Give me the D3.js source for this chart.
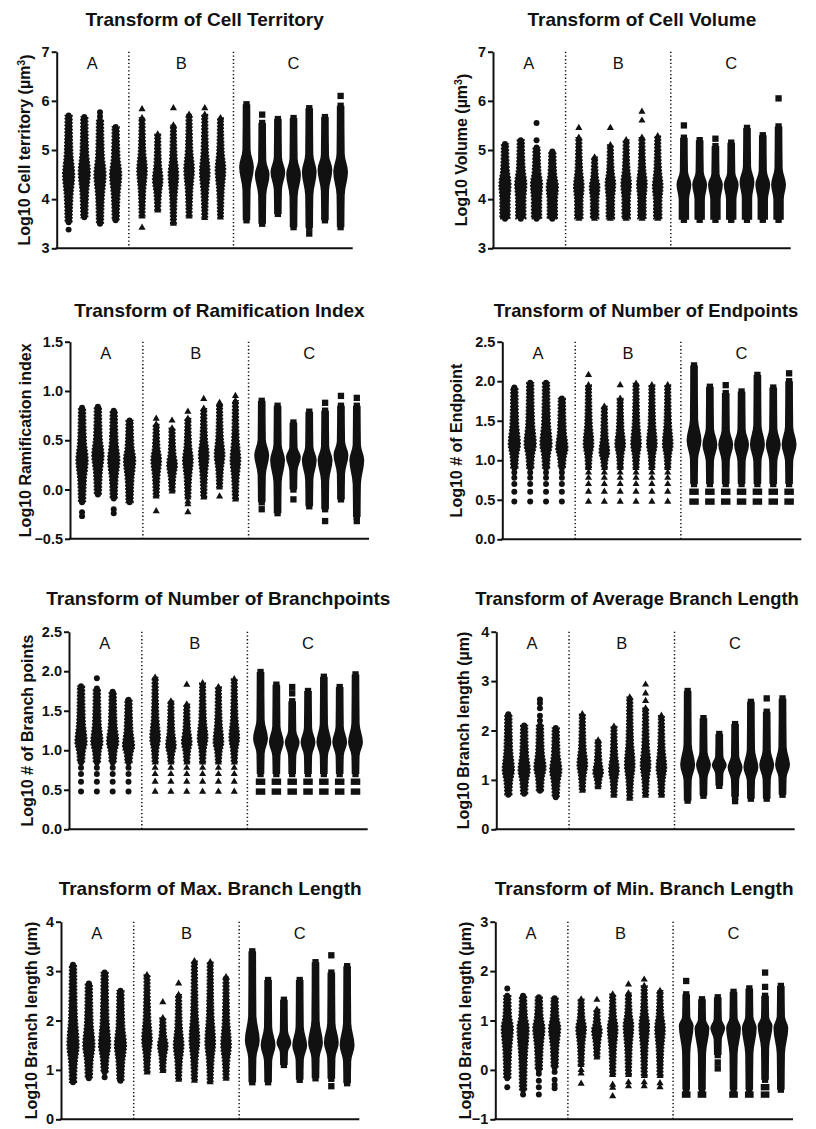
<!DOCTYPE html>
<html>
<head>
<meta charset="utf-8">
<script src="https://cdn.jsdelivr.net/npm/d3@7"></script>
<style>
  body { margin: 0; background: #fff; }
  svg { display: block; }
  text { font-family: "Liberation Sans", Arial, sans-serif; fill: #111; }
</style>
</head>
<body>
<svg id="fig" width="816" height="1129"></svg>
<script>
// ---------- categories ----------
const groups = ["A", "B", "C"];
const groupSizes = [4, 6, 7];

// ---------- per-column swarm extents: [lowest, densest, highest] (log10 units) ----------
// extra points lying outside the dense swarm; [value, run] marks a horizontal run of markers
const territoryCols = [
  [3.53, 4.50, 5.70], [3.63, 4.55, 5.67], [3.50, 4.50, 5.60], [3.57, 4.50, 5.47],
  [3.65, 4.60, 5.65], [3.77, 4.40, 5.32], [3.50, 4.50, 5.50], [3.65, 4.60, 5.72], [3.62, 4.55, 5.72], [3.63, 4.60, 5.65],
  [3.57, 4.65, 5.93], [3.50, 4.50, 5.55], [3.70, 4.55, 5.63], [3.43, 4.50, 5.65], [3.42, 4.55, 5.85], [3.57, 4.60, 5.67], [3.43, 4.55, 5.90]
];
const territoryDots = [
  [3.38], [], [5.68, 5.77], [],
  [5.83, 3.42], [], [5.85], [], [5.85], [],
  [], [5.72], [], [], [3.30], [], [6.10]
];

const volumeCols = [
  [3.60, 4.30, 5.12], [3.60, 4.30, 5.20], [3.60, 4.30, 5.05], [3.60, 4.25, 4.97],
  [3.60, 4.25, 5.25], [3.60, 4.25, 4.85], [3.60, 4.30, 5.10], [3.60, 4.30, 5.20], [3.60, 4.30, 5.25], [3.60, 4.25, 5.28],
  [3.58, 4.30, 5.25], [3.58, 4.30, 5.20], [3.58, 4.30, 5.08], [3.58, 4.30, 5.15], [3.58, 4.35, 5.45], [3.58, 4.30, 5.30], [3.58, 4.30, 5.48]
];
const volumeDots = [
  [], [], [5.20, 5.55], [],
  [5.45], [], [5.45], [], [5.60, 5.78], [],
  [5.50], [], [5.23], [], [], [], [6.05]
];

const ramificationCols = [
  [-0.13, 0.30, 0.83], [-0.05, 0.35, 0.84], [-0.09, 0.30, 0.80], [-0.13, 0.30, 0.70],
  [-0.07, 0.30, 0.66], [-0.02, 0.25, 0.62], [-0.08, 0.30, 0.72], [-0.08, 0.35, 0.82], [0.02, 0.35, 0.86], [-0.10, 0.30, 0.90],
  [-0.13, 0.35, 0.90], [-0.24, 0.30, 0.85], [0.00, 0.33, 0.68], [-0.17, 0.30, 0.79], [-0.20, 0.30, 0.80], [-0.10, 0.35, 0.85], [-0.28, 0.30, 0.85]
];
const ramificationDots = [
  [-0.23, -0.27], [], [-0.20, -0.24], [],
  [0.72, -0.22], [0.70], [0.79, -0.12, -0.15, -0.23], [0.92], [0.88, -0.07], [0.95],
  [-0.20], [], [-0.10], [], [0.88, -0.32], [0.95], [0.93, -0.32]
];

// counts: lowest values sit on log10(3), log10(4), log10(5) ...
const endpointCols = [
  [0.903, 1.20, 1.92], [0.903, 1.20, 1.98], [0.903, 1.20, 1.98], [0.903, 1.15, 1.78],
  [0.903, 1.20, 1.95], [0.903, 1.10, 1.68], [0.903, 1.20, 1.78], [0.903, 1.20, 1.97], [0.903, 1.20, 1.95], [0.903, 1.20, 1.95],
  [0.699, 1.25, 2.20], [0.699, 1.20, 1.93], [0.699, 1.20, 1.85], [0.699, 1.20, 1.87], [0.699, 1.20, 2.08], [0.699, 1.20, 1.92], [0.699, 1.20, 2.00]
];
const endpointDots = [
  [0.477, 0.602, 0.699, 0.778, 0.845], [0.477, 0.602, 0.699, 0.778, 0.845], [0.477, 0.602, 0.699, 0.778, 0.845], [0.477, 0.602, 0.699, 0.778, 0.845],
  [2.08, 0.477, 0.602, 0.699, 0.778, 0.845], [0.477, 0.602, 0.699, 0.778, 0.845], [1.95, 0.477, 0.602, 0.699, 0.778, 0.845],
  [0.477, 0.602, 0.699, 0.778, 0.845], [0.477, 0.602, 0.699, 0.778, 0.845], [0.477, 0.602, 0.699, 0.778, 0.845],
  [[0.477, 0.6], [0.602, 0.6]], [[0.477, 0.6], [0.602, 0.6]], [1.95, [0.477, 0.6], [0.602, 0.6]], [[0.477, 0.6], [0.602, 0.6]],
  [[0.477, 0.6], [0.602, 0.6]], [[0.477, 0.6], [0.602, 0.6]], [2.10, [0.477, 0.6], [0.602, 0.6]]
];

const branchpointCols = [
  [0.845, 1.10, 1.81], [0.845, 1.10, 1.78], [0.845, 1.10, 1.74], [0.845, 1.05, 1.64],
  [0.845, 1.15, 1.92], [0.845, 1.05, 1.62], [0.845, 1.10, 1.58], [0.845, 1.15, 1.85], [0.845, 1.10, 1.80], [0.845, 1.15, 1.90],
  [0.699, 1.15, 1.99], [0.699, 1.10, 1.83], [0.699, 1.10, 1.62], [0.699, 1.10, 1.75], [0.699, 1.10, 1.93], [0.699, 1.10, 1.80], [0.699, 1.10, 1.96]
];
const branchpointDots = [
  [0.477, 0.602, 0.699, 0.778], [1.91, 0.477, 0.602, 0.699, 0.778], [0.477, 0.602, 0.699, 0.778], [0.477, 0.602, 0.699, 0.778],
  [0.477, 0.602, 0.699, 0.778], [0.477, 0.602, 0.699, 0.778], [1.83, 0.477, 0.602, 0.699, 0.778],
  [0.477, 0.602, 0.699, 0.778], [0.477, 0.602, 0.699, 0.778], [0.477, 0.602, 0.699, 0.778],
  [[0.477, 0.6], [0.602, 0.6]], [[0.477, 0.6], [0.602, 0.6]], [1.72, 1.80, [0.477, 0.6], [0.602, 0.6]], [[0.477, 0.6], [0.602, 0.6]],
  [[0.477, 0.6], [0.602, 0.6]], [[0.477, 0.6], [0.602, 0.6]], [[0.477, 0.6], [0.602, 0.6]]
];

const avgLengthCols = [
  [0.70, 1.20, 2.33], [0.72, 1.20, 2.10], [0.78, 1.25, 2.10], [0.65, 1.20, 2.05],
  [0.78, 1.30, 2.33], [0.85, 1.15, 1.80], [0.68, 1.20, 2.08], [0.62, 1.30, 2.67], [0.68, 1.30, 2.45], [0.68, 1.25, 2.30],
  [0.58, 1.30, 2.80], [0.68, 1.30, 2.25], [0.88, 1.30, 1.93], [0.66, 1.25, 2.13], [0.62, 1.25, 2.58], [0.62, 1.30, 2.38], [0.70, 1.30, 2.65]
];
const avgLengthDots = [
  [], [], [2.20, 2.30, 2.45, 2.55, 2.63], [],
  [], [], [], [], [2.60, 2.75, 2.93], [],
  [], [], [], [0.57], [], [2.65], []
];

const maxLengthCols = [
  [0.75, 1.50, 3.13], [0.83, 1.50, 2.75], [0.95, 1.50, 2.97], [0.78, 1.50, 2.60],
  [0.95, 1.60, 2.92], [0.98, 1.50, 2.05], [0.80, 1.50, 2.52], [0.78, 1.60, 3.20], [0.75, 1.55, 3.18], [0.82, 1.50, 2.88],
  [0.75, 1.60, 3.40], [0.75, 1.50, 2.82], [1.10, 1.55, 2.42], [0.80, 1.50, 2.82], [0.83, 1.55, 3.18], [0.82, 1.55, 2.97], [0.73, 1.50, 3.10]
];
const maxLengthDots = [
  [], [], [0.85], [],
  [], [2.37], [2.75], [], [], [],
  [], [], [], [], [], [3.32, 0.67], []
];

const minLengthCols = [
  [-0.17, 0.85, 1.50], [-0.40, 0.85, 1.50], [0.00, 0.85, 1.47], [0.05, 0.85, 1.45],
  [0.10, 0.85, 1.43], [0.25, 0.80, 1.22], [-0.10, 0.85, 1.53], [-0.10, 0.90, 1.55], [-0.12, 0.90, 1.70], [-0.12, 0.85, 1.60],
  [-0.40, 0.90, 1.53], [-0.40, 0.85, 1.43], [0.30, 0.85, 1.47], [-0.40, 0.85, 1.58], [-0.40, 0.85, 1.65], [-0.20, 0.90, 1.50], [-0.40, 0.85, 1.70]
];
const minLengthDots = [
  [1.65, -0.35], [-0.50], [-0.08, -0.22, -0.35, -0.50], [-0.04, -0.20, -0.30, -0.37],
  [0.00, -0.07, -0.28], [1.42], [-0.30, -0.36, -0.53], [1.73, -0.25, -0.33], [1.83, -0.25, -0.33], [-0.27, -0.35],
  [1.80, [-0.50, 0.55]], [[-0.50, 0.55]], [0.15, 0.03], [[-0.50, 0.55]], [[-0.50, 0.55]], [1.97, 1.68, [-0.35, 0.55], [-0.50, 0.55]], []
];

// ---------- axis ticks ----------
const ticks3to7 = [3, 4, 5, 6, 7];
const ticksRamification = [-0.5, 0.0, 0.5, 1.0, 1.5];
const ticksCounts = [0.0, 0.5, 1.0, 1.5, 2.0, 2.5];
const ticks0to4 = [0, 1, 2, 3, 4];
const ticksMin = [-1, 0, 1, 2, 3];

const panels = [
  { title: "Transform of Cell Territory", label: "Log10 Cell territory (µm", sup: "3", domain: [3, 7], ticks: ticks3to7, fmt: d3.format("d"), cols: territoryCols, dots: territoryDots },
  { title: "Transform of Cell Volume", label: "Log10 Volume (µm", sup: "3", domain: [3, 7], ticks: ticks3to7, fmt: d3.format("d"), cols: volumeCols, dots: volumeDots, floor: true },
  { title: "Transform of Ramification Index", label: "Log10 Ramification index", domain: [-0.5, 1.5], ticks: ticksRamification, fmt: d3.format(".1f"), cols: ramificationCols, dots: ramificationDots },
  { title: "Transform of Number of Endpoints", label: "Log10 # of Endpoint", domain: [0, 2.5], ticks: ticksCounts, fmt: d3.format(".1f"), cols: endpointCols, dots: endpointDots },
  { title: "Transform of Number of Branchpoints", label: "Log10 # of Branch points", domain: [0, 2.5], ticks: ticksCounts, fmt: d3.format(".1f"), cols: branchpointCols, dots: branchpointDots },
  { title: "Transform of Average Branch Length", label: "Log10 Branch length (µm)", domain: [0, 4], ticks: ticks0to4, fmt: d3.format("d"), cols: avgLengthCols, dots: avgLengthDots },
  { title: "Transform of Max. Branch Length", label: "Log10 Branch length (µm)", domain: [0, 4], ticks: ticks0to4, fmt: d3.format("d"), cols: maxLengthCols, dots: maxLengthDots },
  { title: "Transform of Min. Branch Length", label: "Log10 Branch length (µm)", domain: [-1, 3], ticks: ticksMin, fmt: d3.format("d"), cols: minLengthCols, dots: minLengthDots }
];

// ---------- layout ----------
const frames = [
  { x0: 56.7, x1: 352.7, yT: 51.7, yB: 248.3, labelX: 24, titleY: 19 },
  { x0: 493.0, x1: 790.7, yT: 51.7, yB: 248.3, labelX: 461, titleY: 19 },
  { x0: 70.0, x1: 369.0, yT: 341.7, yB: 538.8, labelX: 25, titleY: 310 },
  { x0: 502.3, x1: 801.3, yT: 341.7, yB: 539.3, labelX: 456, titleY: 310, titleX: 646, titleSize: 18.4 },
  { x0: 69.0, x1: 367.7, yT: 631.7, yB: 829.3, labelX: 27, titleY: 598 },
  { x0: 496.3, x1: 794.7, yT: 631.7, yB: 829.3, labelX: 463, titleY: 598, titleX: 637, titleSize: 18.4 },
  { x0: 61.0, x1: 359.3, yT: 921.7, yB: 1119.3, labelX: 31, titleY: 888 },
  { x0: 495.3, x1: 793.0, yT: 921.7, yB: 1119.3, labelX: 465, titleY: 888 }
];

const ink = "#111";
const groupStart = [0, 4.68, 11.34];        // slot of each group's first column
const slotDomain = [-0.76, 18.11];
const dividerSlots = [3.84, 10.51];
const symbols = [d3.symbolCircle, d3.symbolTriangle, d3.symbolSquare];
const symbolArea = [28, 22, 40];
// swarm width (fraction of column spacing) at ends, flanks and densest level,
// and where the flanks sit between the densest level and each end
const swarmShape = [
  { end: 0.42, flank: 0.52, peak: 0.74, lowAt: 0.45, highAt: 0.35 },
  { end: 0.34, flank: 0.44, peak: 0.64, lowAt: 0.45, highAt: 0.35 },
  { end: 0.48, flank: 0.52, peak: 0.94, lowAt: 0.42, highAt: 0.28 }
];
const floorWidth = [0.62, 0.50, 0.66];

const svg = d3.select("#fig");

function drawPanel(p, f) {
  const g = svg.append("g");
  const x = d3.scaleLinear().domain(slotDomain).range([f.x0, f.x1]);
  const y = d3.scaleLinear().domain(p.domain).range([f.yB, f.yT]);
  const step = x(1) - x(0);

  g.append("text")
    .attr("x", f.titleX || (f.x0 + f.x1) / 2).attr("y", f.titleY)
    .attr("dy", "0.36em")
    .attr("text-anchor", "middle")
    .attr("font-weight", "bold").attr("font-size", f.titleSize || 19)
    .text(p.title);

  dividerSlots.forEach(s => {
    g.append("line")
      .attr("x1", x(s)).attr("x2", x(s))
      .attr("y1", f.yT).attr("y2", f.yB)
      .attr("stroke", ink).attr("stroke-width", 1.5)
      .attr("stroke-dasharray", "1.3,2.4");
  });

  const area = d3.area()
    .y(d => y(d.v))
    .x0(d => d.cx - d.w * step / 2)
    .x1(d => d.cx + d.w * step / 2)
    .curve(d3.curveMonotoneY);

  let k = 0;
  groups.forEach((name, gi) => {
    const centers = [];
    const sh = swarmShape[gi];
    for (let j = 0; j < groupSizes[gi]; j++, k++) {
      const [lo, pk, hi] = p.cols[k];
      const cx = x(groupStart[gi] + j);
      centers.push(cx);
      const loW = p.floor ? floorWidth[gi] : sh.end;
      const loFlank = p.floor ? Math.max(floorWidth[gi], sh.flank) : sh.flank;
      const stops = [
        { v: lo, w: loW },
        { v: pk - (pk - lo) * sh.lowAt, w: loFlank },
        { v: pk, w: sh.peak },
        { v: pk + (hi - pk) * sh.highAt, w: sh.flank },
        { v: hi, w: sh.end }
      ].map(s => ({ ...s, cx }));
      const body = g.append("path").attr("d", area(stops)).attr("fill", ink);
      if (gi < 2) {
        // beaded outline of the individual markers
        body.attr("stroke", ink).attr("stroke-width", 1.6).attr("stroke-dasharray", "1.8,1.6");
      }

      const sym = d3.symbol().type(symbols[gi]).size(symbolArea[gi]);
      // end markers of the swarm plus the separate points
      const singles = [lo, hi];
      const runs = [];
      p.dots[k].forEach(d => Array.isArray(d) ? runs.push(d) : singles.push(d));
      singles.forEach(v => {
        g.append("path").attr("d", sym())
          .attr("transform", `translate(${cx},${y(v)})`)
          .attr("fill", ink);
      });
      runs.forEach(([v, frac]) => {
        g.append("rect")
          .attr("x", cx - frac * step / 2).attr("width", frac * step)
          .attr("y", y(v) - 3.2).attr("height", 6.4)
          .attr("fill", ink);
      });
    }
    g.append("text")
      .attr("x", (centers[0] + centers[centers.length - 1]) / 2)
      .attr("y", f.yT + 17)
      .attr("text-anchor", "middle")
      .attr("font-size", 16.5)
      .text(name);
  });

  const axis = g.append("g")
    .attr("transform", `translate(${f.x0},0)`)
    .call(d3.axisLeft(y).tickValues(p.ticks).tickFormat(p.fmt).tickSize(5).tickSizeOuter(0).tickPadding(2));
  axis.select(".domain").attr("stroke", ink).attr("stroke-width", 2);
  axis.selectAll(".tick line").attr("stroke", ink).attr("stroke-width", 2);
  axis.selectAll(".tick text")
    .attr("fill", ink).attr("font-size", 14.5).attr("font-weight", "bold")
    .attr("font-family", "'Liberation Sans', Arial, sans-serif");

  g.append("line")
    .attr("x1", f.x0 - 1).attr("x2", f.x1)
    .attr("y1", f.yB).attr("y2", f.yB)
    .attr("stroke", ink).attr("stroke-width", 2);

  const lab = g.append("text")
    .attr("transform", `translate(${f.labelX},${(f.yT + f.yB) / 2}) rotate(-90)`)
    .attr("text-anchor", "middle").attr("dy", "0.36em")
    .attr("font-weight", "bold").attr("font-size", 16)
    .text(p.label);
  if (p.sup) {
    lab.append("tspan").attr("dy", "-0.45em").attr("font-size", 10.5).text(p.sup);
    lab.append("tspan").attr("dy", "0.45em").text(")");
  }
}

panels.forEach((p, i) => drawPanel(p, frames[i]));
</script>
</body>
</html>
